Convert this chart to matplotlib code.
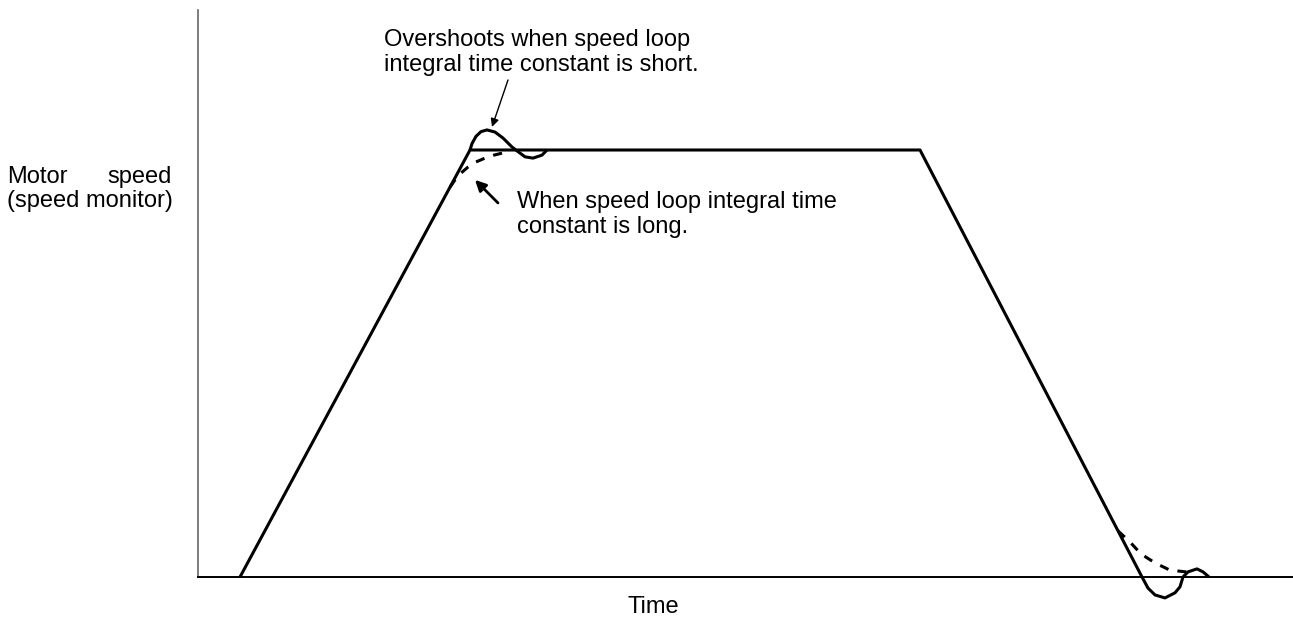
import matplotlib.pyplot as plt

plt.rcParams["font.family"] = ["Liberation Sans", "DejaVu Sans"]

# ---------- Speed profile (time in arbitrary units, speed normalised to 1) ----------
profile_t = [4.2, 27.2, 72.2, 94.4]
profile_v = [0.0, 1.0, 1.0, 0.0]

# Short integral time constant: overshoot at the top of the ramp
over_t = [27.2, 27.4, 27.8, 28.3, 28.9, 29.7, 30.5, 31.4, 31.9, 32.7, 33.5, 34.4, 34.9]
over_v = [1.000, 1.015, 1.032, 1.043, 1.047, 1.042, 1.028, 1.007, 0.998, 0.984, 0.981, 0.988, 1.000]

# Long integral time constant: slow approach to the plateau
slow_t = [25.2, 25.7, 26.3, 27.0, 27.8, 28.7, 29.6, 30.8]
slow_v = [0.913, 0.930, 0.946, 0.960, 0.972, 0.981, 0.988, 0.995]

# Stopping: undershoot below zero (short) and slow settling (long)
under_t = [94.4, 95.0, 95.7, 96.7, 97.7, 98.2, 98.5, 99.0, 99.9, 100.5, 101.1]
under_v = [0.000, -0.026, -0.042, -0.049, -0.037, -0.023, 0.000, 0.012, 0.019, 0.012, 0.000]

settle_t = [92.0, 93.2, 94.3, 95.7, 97.2, 98.8, 99.7]
settle_v = [0.108, 0.082, 0.054, 0.033, 0.016, 0.012, 0.014]

# ---------- Figure ----------
fig = plt.figure(figsize=(12.93, 6.26), dpi=100)
ax = fig.add_axes([198 / 1293, 49 / 626, 1095 / 1293, 567 / 626])
ax.set_xlim(0, 109.5)
ax.set_ylim(0, 567 / 427)

for side in ["top", "right"]:
    ax.spines[side].set_visible(False)
ax.spines["left"].set_color("#666666")
ax.spines["left"].set_linewidth(1.2)
ax.spines["bottom"].set_color("black")
ax.spines["bottom"].set_linewidth(1.4)
ax.set_xticks([])
ax.set_yticks([])

line_kw = dict(color="black", lw=2.2, clip_on=False, solid_capstyle="butt")
ax.plot(profile_t, profile_v, **line_kw)
ax.plot(over_t, over_v, **line_kw)
ax.plot(under_t, under_v, **line_kw)
ax.plot(slow_t, slow_v, ls=(0, (3, 3)), **line_kw)
ax.plot(settle_t, settle_v, ls=(0, (3, 3)), **line_kw)

# ---------- Annotations ----------
fs = 17
ax.text(18.6, 1.244, "Overshoots when speed loop", fontsize=fs, va="baseline")
ax.text(18.6, 1.185, "integral time constant is short.", fontsize=fs, va="baseline")
ax.annotate("", xy=(29.4, 1.054), xytext=(31.0, 1.164),
            arrowprops=dict(arrowstyle="-|>", color="black", lw=1.0,
                            mutation_scale=12, shrinkA=0, shrinkB=0))

ax.text(31.9, 0.864, "When speed loop integral time", fontsize=fs, va="baseline")
ax.text(31.9, 0.806, "constant is long.", fontsize=fs, va="baseline")
ax.annotate("", xy=(27.7, 0.930), xytext=(30.0, 0.876),
            arrowprops=dict(arrowstyle="-|>", color="black", lw=2.0,
                            mutation_scale=16, shrinkA=0, shrinkB=0))

fig.text(7 / 1293, 1 - 183 / 626, "Motor", fontsize=fs, va="baseline")
fig.text(172 / 1293, 1 - 183 / 626, "speed", fontsize=fs, va="baseline", ha="right")
fig.text(7 / 1293, 1 - 207 / 626, "(speed monitor)", fontsize=fs, va="baseline")

fig.text(628 / 1293, 1 - 613 / 626, "Time", fontsize=fs, va="baseline")

fig.savefig("out.png", dpi=100)
